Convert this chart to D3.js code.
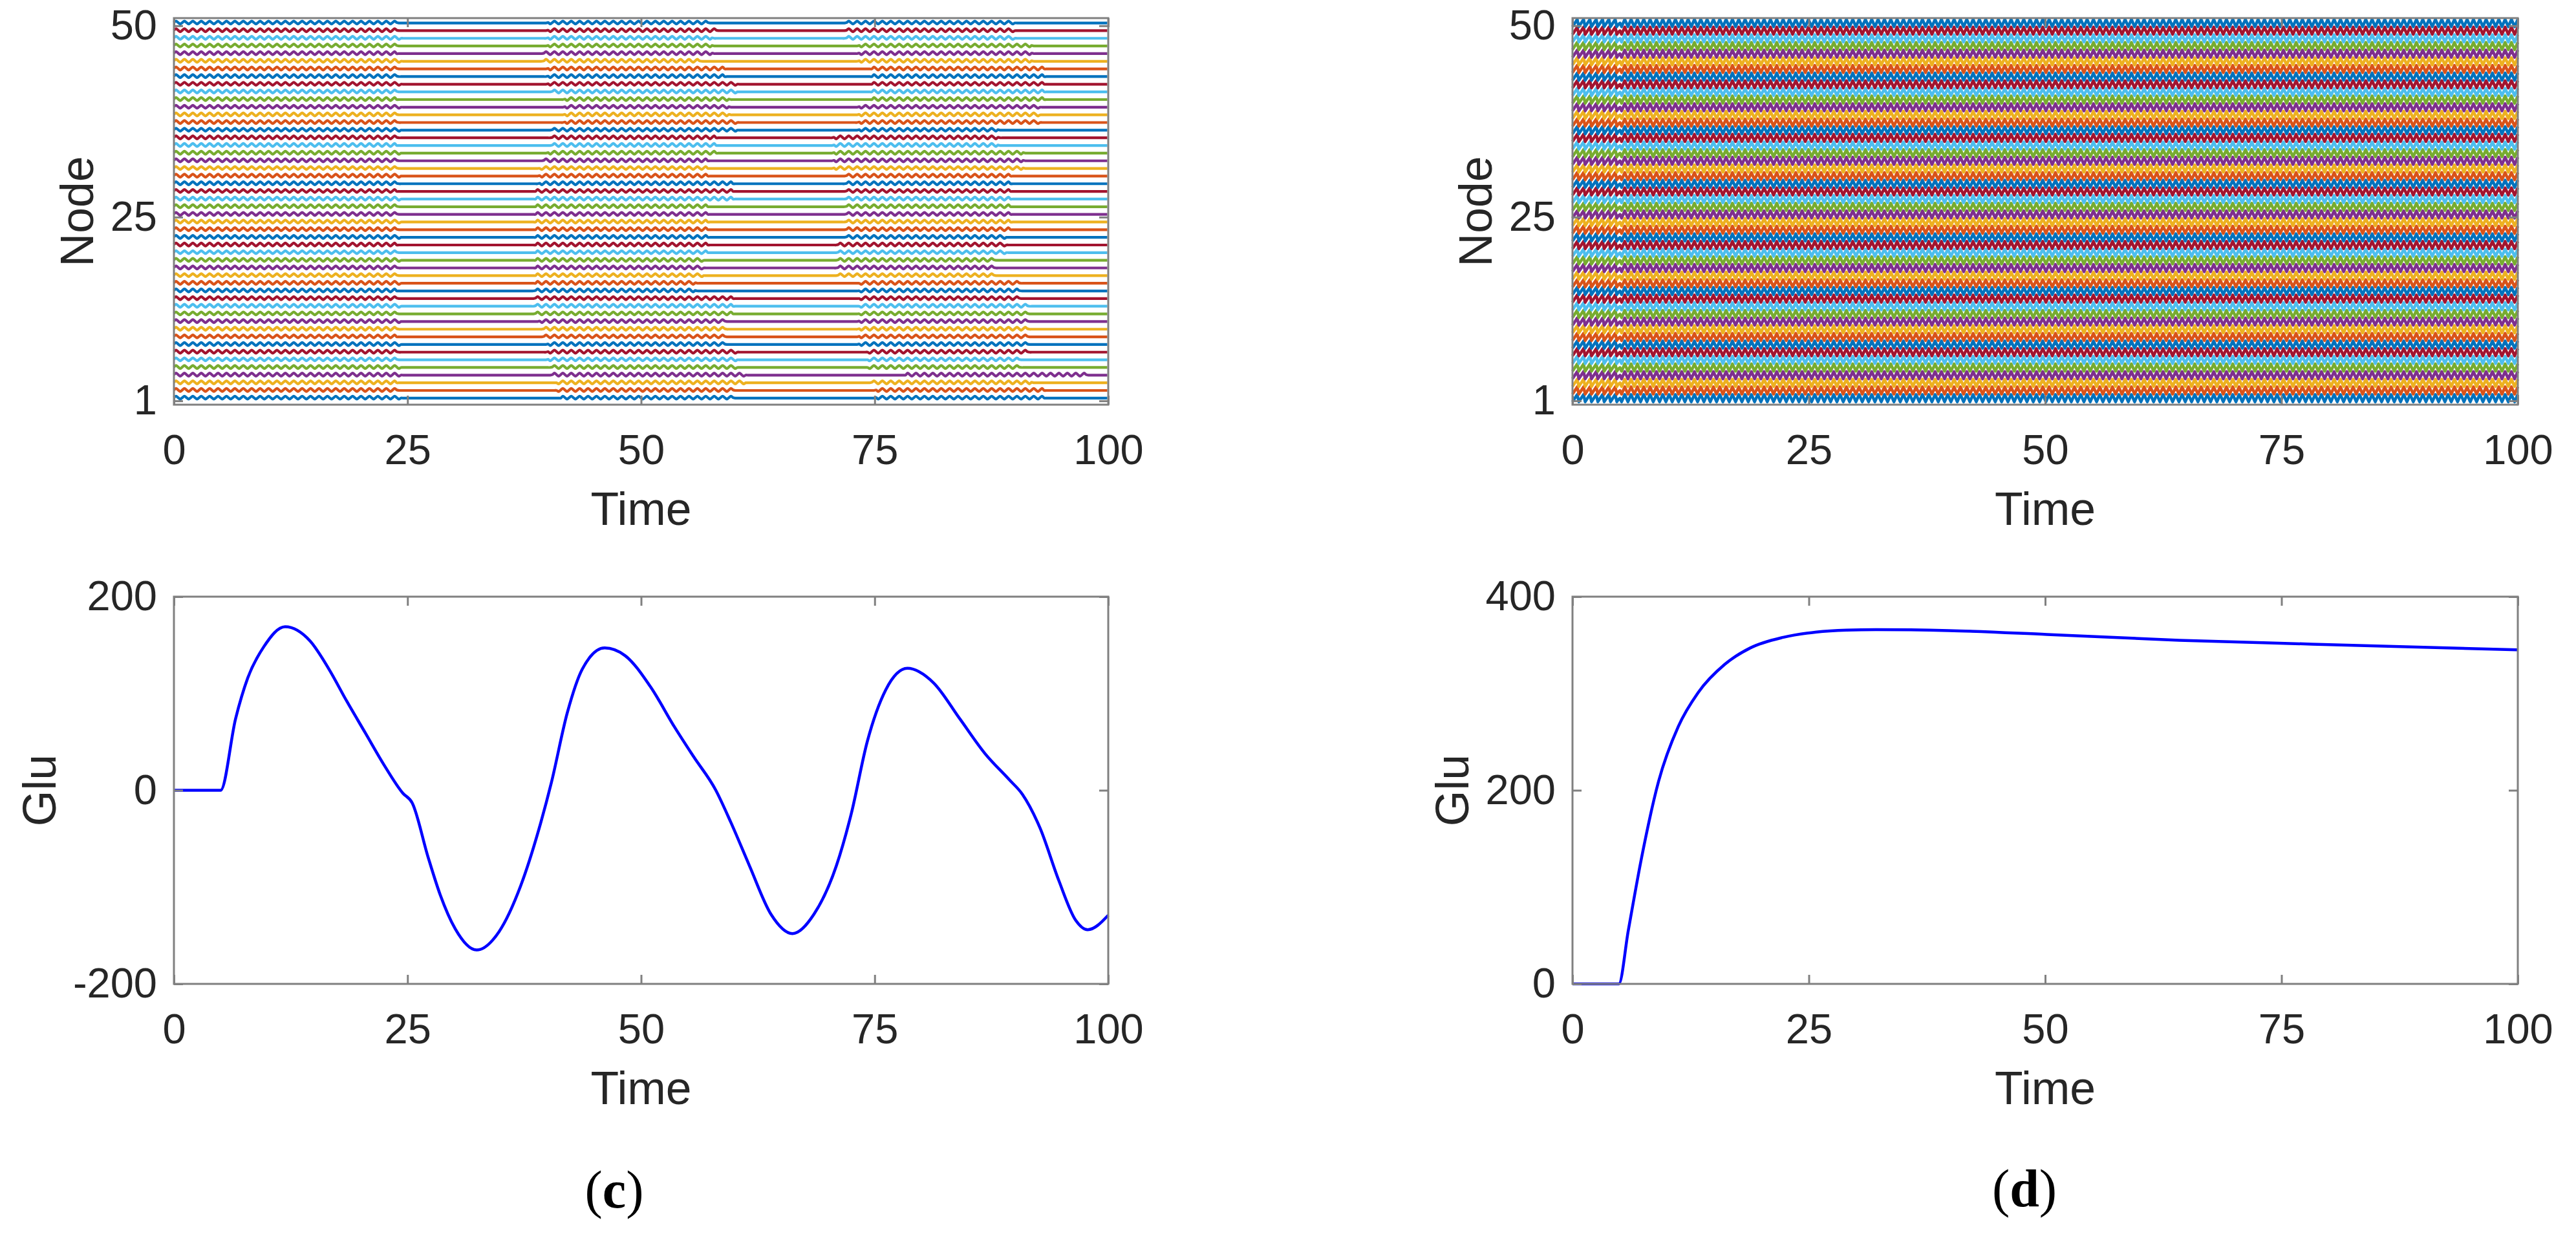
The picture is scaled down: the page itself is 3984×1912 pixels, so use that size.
<!DOCTYPE html>
<html>
<head>
<meta charset="utf-8">
<script src="https://cdn.jsdelivr.net/npm/d3@7"></script>
<style>
  body { margin: 0; background: #fff; }
  svg { display: block; }
</style>
</head>
<body>
<svg id="drawing_region"></svg>
<script>
// ---------------- data ----------------
const timeTicks = [0, 25, 50, 75, 100];
const nodeTicks = [1, 25, 50];
const gluTicksC = [-200, 0, 200];
const gluTicksD = [0, 200, 400];
const nodeCount = 50;
const nodeColors = ['#0072BD', '#D95319', '#EDB120', '#7E2F8E', '#77AC30', '#4DBEEE', '#A2142F'];

// (a) every node oscillates in three bursts; times read per node (node 1 first)
const burst1End = [24.2, 24.0, 23.8, 24.3, 24.1, 23.9, 24.0, 24.2, 23.7, 24.0,
                   24.1, 23.9, 24.2, 24.0, 23.8, 24.1, 24.0, 23.9, 24.2, 24.0,
                   23.8, 24.1, 24.0, 24.3, 23.9, 24.0, 24.1, 23.8, 24.0, 24.2,
                   23.9, 24.0, 24.1, 23.8, 24.0, 24.2, 23.9, 24.0, 24.1, 23.7,
                   24.0, 24.2, 23.9, 24.0, 24.1, 23.8, 24.0, 24.2, 23.9, 24.0];
const burst2Start = [41.5, 41.0, 41.0, 40.5, 40.5, 40.0, 40.0, 40.0, 39.5, 39.5,
                     39.0, 38.6, 38.6, 38.6, 38.6, 38.8, 38.8, 38.8, 38.8, 38.8,
                     38.8, 38.8, 38.8, 38.8, 38.8, 38.8, 38.8, 38.8, 39.0, 39.0,
                     39.3, 39.5, 40.0, 40.4, 40.4, 40.4, 41.8, 41.8, 41.8, 41.8,
                     40.5, 40.0, 40.0, 40.0, 39.5, 39.5, 40.0, 40.0, 40.0, 40.0];
const burst2End = [60.0, 60.0, 61.0, 61.0, 60.1, 60.1, 60.1, 59.0, 59.0, 59.0,
                   59.0, 59.7, 59.7, 59.7, 56.0, 56.0, 56.6, 56.6, 56.6, 57.1,
                   57.1, 57.1, 57.1, 57.1, 57.0, 57.0, 59.8, 59.8, 59.8, 57.0,
                   57.0, 57.0, 58.0, 58.0, 58.0, 60.1, 60.1, 59.5, 59.5, 59.5,
                   60.1, 60.1, 58.9, 58.9, 56.3, 57.8, 57.8, 57.8, 58.1, 57.3];
const burst3Start = [75.0, 75.0, 74.5, 78.5, 74.4, 74.4, 74.4, 73.3, 73.3, 73.3,
                     73.3, 73.5, 73.5, 73.5, 73.5, 73.5, 71.0, 71.0, 71.0, 71.0,
                     71.0, 72.0, 72.0, 72.0, 72.0, 72.0, 71.8, 71.8, 71.8, 71.8,
                     70.5, 70.5, 70.5, 70.5, 70.5, 73.3, 73.3, 73.3, 73.3, 74.8,
                     74.8, 74.8, 74.8, 74.8, 73.3, 73.3, 73.3, 71.8, 71.8, 71.8];
const burst3End = [93.0, 93.0, 92.0, 97.8, 90.5, 90.5, 91.5, 91.5, 91.5, 91.5,
                   91.5, 91.5, 91.5, 90.5, 90.5, 90.5, 87.9, 87.9, 87.9, 88.9,
                   88.9, 88.9, 89.4, 89.4, 89.4, 89.4, 89.4, 89.4, 89.4, 89.4,
                   91.0, 91.0, 91.0, 88.4, 88.4, 88.4, 92.6, 92.6, 92.6, 93.1,
                   93.1, 93.1, 93.1, 93.1, 92.0, 92.0, 92.0, 90.0, 90.0, 90.0];
// one wiggle of (a), read as offsets from the node number, and its period
const wavePeriodA = 0.9;
const waveShapeA = [0.42, 0.62, 0.42, 0.22];
const restLevelA = 0.36;

// (b) zigzag of every node: sawtooth before t = 5, triangle after
const wavePeriodB = 0.67;
const switchTimeB = 5;
const waveShapeB0 = [-0.13, 0.19, 0.51, 0.83];
const waveShapeB = [0.35, 0.83, 0.35, -0.13];

// (c) Glu
const gluTimeC = [0, 5, 6.6, 7.9, 9.6, 11.9, 14.6, 16.6, 18.5, 20.5, 22.5, 24.5, 25.5,
                  27.2, 28.5, 30.1, 32.4, 34.8, 37.1, 39.1, 40.4, 42.1, 43.7, 46.1, 48.3,
                  51.0, 53.6, 55.6, 58.0, 59.6, 61.6, 63.9, 66.2, 68.5, 70.9, 72.5, 74.2,
                  76.2, 78.5, 81.3, 84.1, 86.8, 89.4, 90.8, 92.7, 94.7, 96.5, 97.8, 100];
const gluValueC = [0, 0, 74, 116, 148, 169, 154, 125, 92, 59, 26, -3, -13,
                   -69, -108, -143, -165, -146, -99, -39, 8, 80, 125, 147, 139,
                   107, 65, 35, 0, -33, -78, -128, -148, -128, -78, -24, 50,
                   104, 126, 111, 74, 38, 11, -4, -39, -93, -134, -144, -129];

// (d) Glu
const gluTimeD = [0, 4.9, 5.9, 7.3, 9.1, 11.2, 13.3, 16.1, 18.8, 22.3, 25.8, 29.0, 32.1, 39.8, 50.2, 64.2, 78.2, 100];
const gluValueD = [0, 0, 55, 130, 209, 266, 301, 330, 347, 358, 363.5, 365.5, 366, 365, 361, 355, 351, 345];

// ---------------- drawing ----------------
const W = 3984, H = 1912;
const tickFont = 65, labelFont = 71.5;
const fontFamily = '"Liberation Sans", Arial, Helvetica, sans-serif';
const boxColor = '#808080';
const textColor = '#262626';

const svg = d3.select('#drawing_region').attr('width', W).attr('height', H);
svg.append('rect').attr('width', W).attr('height', H).attr('fill', '#fff');

class Panel {
    constructor(config) {
        this.config = config;
        this.init();
    }

    init() {
        const c = this.config;
        this.g = svg.append('g').attr('transform', `translate(${c.left},${c.top})`);
        this.x = d3.scaleLinear().domain(c.xDomain).range([0, c.width]);
        this.y = d3.scaleLinear().domain(c.yDomain).range([c.height, 0]);
        this.plot = this.g.append('g');
    }

    lines(series, color, curve, width) {
        const line = d3.line()
            .x(d => this.x(d[0]))
            .y(d => this.y(d[1]))
            .curve(curve);
        this.plot.selectAll('path.series')
            .data(series)
            .enter()
            .append('path')
            .attr('class', 'series')
            .attr('d', line)
            .attr('fill', 'none')
            .attr('stroke', color)
            .attr('stroke-width', width)
            .attr('stroke-linejoin', 'round');
    }

    axes() {
        const c = this.config;
        const self = this;
        const fmt = d => String(d);
        const style = g => {
            g.select('.domain').remove();
            g.attr('font-size', tickFont).attr('font-family', fontFamily);
            g.selectAll('line').attr('stroke', boxColor).attr('stroke-width', 3);
            g.selectAll('text').attr('fill', textColor);
        };

        self.g.append('rect')
            .attr('width', c.width).attr('height', c.height)
            .attr('fill', 'none').attr('stroke', boxColor).attr('stroke-width', 3);

        self.g.append('g').attr('transform', `translate(0,${c.height})`)
            .call(d3.axisBottom(self.x).tickValues(c.xTicks).tickSize(-14).tickPadding(46).tickFormat(fmt))
            .call(style);
        self.g.append('g')
            .call(d3.axisTop(self.x).tickValues(c.xTicks).tickSize(-14).tickFormat(''))
            .call(style);
        const left = self.g.append('g')
            .call(d3.axisLeft(self.y).tickValues(c.yTicks).tickSize(-14).tickPadding(26).tickFormat(fmt))
            .call(style);
        self.g.append('g').attr('transform', `translate(${c.width},0)`)
            .call(d3.axisRight(self.y).tickValues(c.yTicks).tickSize(-14).tickFormat(''))
            .call(style);

        self.g.append('text')
            .attr('x', c.width / 2).attr('y', c.height + 186)
            .attr('text-anchor', 'middle')
            .attr('font-family', fontFamily).attr('font-size', labelFont)
            .attr('fill', textColor)
            .text(c.xLabel);

        const box = left.node().getBBox();
        self.g.append('text')
            .attr('transform', `translate(${box.x - 27},${c.height / 2}) rotate(-90)`)
            .attr('text-anchor', 'middle')
            .attr('font-family', fontFamily).attr('font-size', labelFont)
            .attr('fill', textColor)
            .text(c.yLabel);
    }
}

// builds a node's trace by repeating the read wiggle while the node is active
function nodeTrace(node, period, shapeAt, rest) {
    const n = 4;
    const step = period / n;
    const pts = [];
    for (let k = 0; k * step <= 100 + 1e-9; k++) {
        const t = k * step;
        const shape = shapeAt(t);
        pts.push([t, node + (shape ? shape[k % n] : rest)]);
    }
    return pts;
}

const nodes = d3.range(1, nodeCount + 1);
const nodeColor = d => nodeColors[(d.node - 1) % nodeColors.length];

// ---- (a) ----
const panelA = new Panel({
    left: 269, top: 28, width: 1445, height: 598,
    xDomain: [0, 100], yDomain: [0.5, 51],
    xTicks: timeTicks, yTicks: nodeTicks, xLabel: 'Time', yLabel: 'Node'
});
const seriesA = nodes.map(node => {
    const i = node - 1;
    const active = t => t < burst1End[i] ||
        (t >= burst2Start[i] && t < burst2End[i]) ||
        (t >= burst3Start[i] && t < burst3End[i]);
    const pts = nodeTrace(node, wavePeriodA, t => active(t) ? waveShapeA : null, restLevelA);
    pts.node = node;
    return pts;
});
panelA.plot.selectAll('path.series')
    .data(seriesA).enter().append('path')
    .attr('class', 'series')
    .attr('d', d3.line().x(d => panelA.x(d[0])).y(d => panelA.y(d[1])).curve(d3.curveCatmullRom))
    .attr('fill', 'none')
    .attr('stroke', nodeColor)
    .attr('stroke-width', 4.2);
panelA.axes();

// ---- (b) ----
const panelB = new Panel({
    left: 2432, top: 28, width: 1462, height: 598,
    xDomain: [0, 100], yDomain: [0.5, 51],
    xTicks: timeTicks, yTicks: nodeTicks, xLabel: 'Time', yLabel: 'Node'
});
const seriesB = nodes.map(node => {
    const pts = nodeTrace(node, wavePeriodB, t => t < switchTimeB ? waveShapeB0 : waveShapeB, 0);
    pts.node = node;
    return pts;
});
panelB.plot.selectAll('path.series')
    .data(seriesB).enter().append('path')
    .attr('class', 'series')
    .attr('d', d3.line().x(d => panelB.x(d[0])).y(d => panelB.y(d[1])))
    .attr('fill', 'none')
    .attr('stroke', nodeColor)
    .attr('stroke-width', 4.5)
    .attr('stroke-linejoin', 'round');
panelB.axes();

// ---- (c) ----
const panelC = new Panel({
    left: 269, top: 923, width: 1445, height: 599,
    xDomain: [0, 100], yDomain: [-200, 200],
    xTicks: timeTicks, yTicks: gluTicksC, xLabel: 'Time', yLabel: 'Glu'
});
panelC.lines([d3.zip(gluTimeC, gluValueC)], '#0000FF', d3.curveMonotoneX, 4.5);
panelC.axes();

// ---- (d) ----
const panelD = new Panel({
    left: 2432, top: 923, width: 1462, height: 599,
    xDomain: [0, 100], yDomain: [0, 400],
    xTicks: timeTicks, yTicks: gluTicksD, xLabel: 'Time', yLabel: 'Glu'
});
panelD.lines([d3.zip(gluTimeD, gluValueD)], '#0000FF', d3.curveMonotoneX, 4.5);
panelD.axes();

// ---- sub-figure captions ----
const captions = [{ letter: 'c', x: 950, y: 1868 }, { letter: 'd', x: 3131, y: 1866 }];
captions.forEach(cap => {
    const t = svg.append('text')
        .attr('x', cap.x).attr('y', cap.y)
        .attr('text-anchor', 'middle')
        .attr('font-family', '"Liberation Serif", "Times New Roman", serif')
        .attr('font-size', 82)
        .attr('fill', '#000');
    t.append('tspan').text('(');
    t.append('tspan').attr('font-weight', 'bold').text(cap.letter);
    t.append('tspan').text(')');
});
</script>
</body>
</html>
